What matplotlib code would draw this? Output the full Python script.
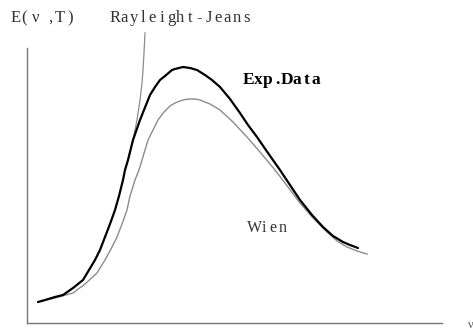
import matplotlib
matplotlib.use('Agg')
import matplotlib.pyplot as plt

# Blackbody spectrum: measured curve vs. Wien and Rayleigh-Jeans (arbitrary units)
exp_freq = [11, 18, 28, 36, 46, 56, 62, 68, 73, 78, 83, 88, 92, 96, 98,
            101, 106, 113, 121, 123, 128, 133, 138, 145, 148, 156, 163, 170,
            178, 185, 193, 203, 213, 221, 230, 241, 253, 263, 273, 285, 296,
            306, 316, 323, 331]
exp_energy = [21, 23, 26, 28, 35, 43, 53, 63, 73, 86, 99, 113, 127, 143, 153,
              163, 183, 203, 223, 228, 236, 243, 247, 253, 254, 256, 255, 253,
              248, 243, 236, 224, 210, 198, 186, 170, 153, 138, 123, 108, 96,
              87, 81, 78, 75]

wien_freq = [11, 28, 46, 58, 70, 78, 84, 90, 95, 100, 103, 108, 112, 115, 118,
             121, 126, 131, 137, 143, 148, 153, 158, 163, 168, 173, 183, 193,
             206, 220, 233, 248, 261, 273, 286, 300, 310, 320, 330, 340]
wien_energy = [21, 25, 30, 39, 50, 63, 74, 86, 99, 113, 127, 143, 153, 163,
               173, 183, 193, 203, 211, 217, 220, 222, 223.5, 224, 224, 223,
               219, 213, 201, 186, 171, 153, 136, 120, 105, 91, 82, 76, 72, 69]

rj_freq = [101, 106, 110, 113, 115, 116, 117, 118]
rj_energy = [163, 183, 203, 223, 240, 253, 270, 290]

plt.rcParams['font.family'] = ['Liberation Serif', 'DejaVu Serif']

fig = plt.figure(figsize=(4.73, 3.31), dpi=100)
ax = fig.add_axes([27 / 473, 8 / 331, 415 / 473, 275 / 331])

ax.plot(wien_freq, wien_energy, color='#8c8c8c', lw=1.0)
ax.plot(rj_freq, rj_energy, color='#8c8c8c', lw=0.9, clip_on=False)
ax.plot(exp_freq, exp_energy, color='black', lw=1.6, solid_capstyle='round')

ax.set_xlim(0, 415)
ax.set_ylim(0, 275)
ax.set_xticks([])
ax.set_yticks([])
for side in ['top', 'right']:
    ax.spines[side].set_visible(False)
for side in ['left', 'bottom']:
    ax.spines[side].set_color('#777777')
    ax.spines[side].set_linewidth(1.0)


def spaced_text(x, y, s, step, **kw):
    # one glyph per fixed-width cell, like a half-width CJK font
    for i, ch in enumerate(s):
        ax.text(x + i * step + step / 2, y, ch, ha='center', va='center',
                clip_on=False, **kw)


label_kw = dict(fontsize=12, color='#333333')
# axis label E(nu,T), the nu sits in a double-width cell
spaced_text(-16, 305, 'E(', 8.5, **label_kw)
ax.text(9, 305, '\u03bd', ha='center', va='center', clip_on=False, **label_kw)
spaced_text(18, 305, ',T)', 10, **label_kw)

spaced_text(83, 305, 'Rayleight-Jeans', 9.4, **label_kw)
spaced_text(217, 243, 'Exp.Data', 9.6, fontsize=12.5, fontweight='bold',
            color='black')
spaced_text(223, 95, 'Wien', 9.2, fontsize=11.5, color='#333333')
ax.text(441, -2, '\u03bd', fontsize=9, color='#555555', va='center', ha='left',
        clip_on=False)

fig.savefig('out.png', dpi=100)
